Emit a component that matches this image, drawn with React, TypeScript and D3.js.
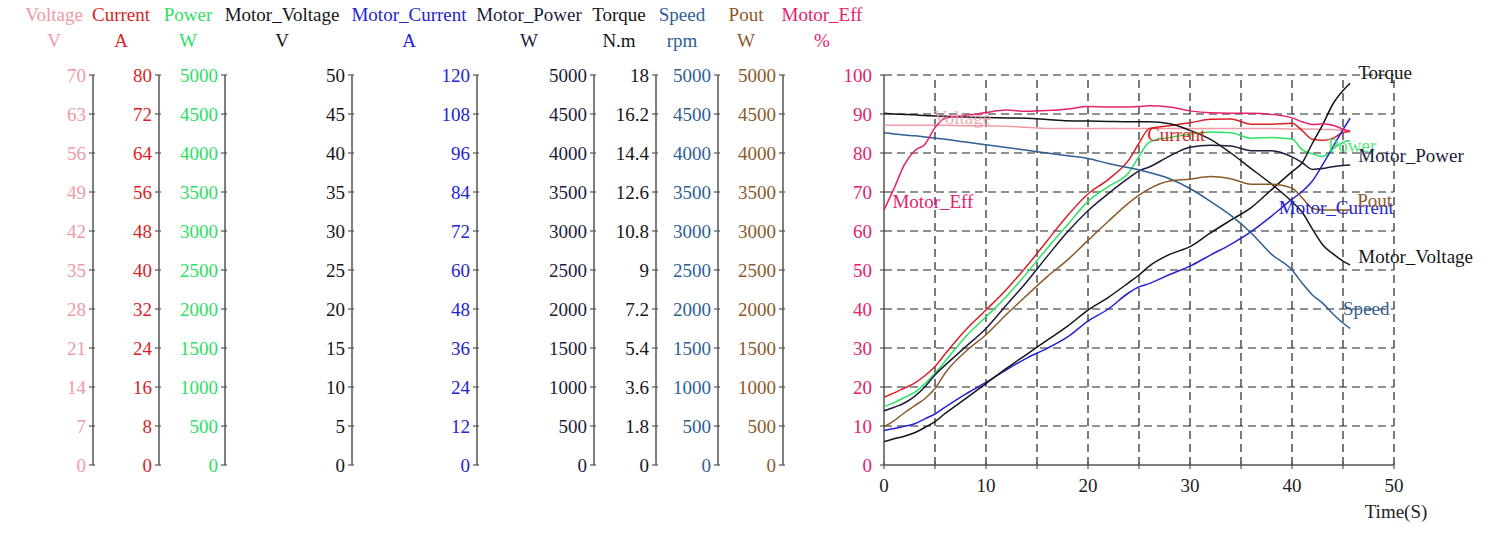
import React from "react";
import * as d3 from "d3";

// sample times (s)
const TIME = [0, 1, 2, 3, 4, 5, 6, 8, 10, 12, 14, 16, 18, 20, 22, 24, 25, 26, 28, 30, 32, 34, 36, 38, 40, 41, 42, 43, 44, 45, 45.7];

// series values, native units
const VOLTAGE = [61.0, 61.0, 61.0, 61.0, 61.0, 61.0, 61.0, 60.9, 60.9, 60.8, 60.6, 60.4, 60.4, 60.4, 60.4, 60.4, 60.4, 60.4, 60.4, 60.4, 60.4, 60.4, 60.4, 60.4, 60.3, 60.3, 60.3, 60.2, 60.2, 60.1, 60.1];
const CURRENT = [13.9, 14.8, 15.8, 16.8, 18.3, 20.2, 22.8, 27.7, 31.8, 36.0, 40.8, 46.0, 51.2, 55.6, 58.6, 62.6, 66.0, 69.0, 69.6, 70.2, 70.9, 71.0, 69.9, 69.9, 70.1, 68.6, 66.8, 66.6, 67.0, 68.2, 68.4];
const POWER = [750, 800, 865, 930, 1040, 1175, 1330, 1645, 1900, 2160, 2460, 2780, 3080, 3380, 3570, 3750, 3955, 4140, 4200, 4240, 4270, 4260, 4190, 4200, 4180, 4040, 3990, 3955, 4050, 4140, 4160];
const MOTOR_VOLTAGE = [45.1, 45.0, 44.95, 44.9, 44.8, 44.75, 44.7, 44.6, 44.55, 44.5, 44.45, 44.3, 44.15, 44.1, 44.05, 44.0, 44.0, 44.0, 43.75, 42.9, 41.75, 40.0, 38.0, 36.0, 33.75, 32.4, 30.25, 28.25, 27.1, 26.15, 25.65];
const MOTOR_CURRENT = [10.6, 11.2, 11.9, 12.7, 14.2, 15.7, 17.8, 21.8, 25.4, 29.3, 32.9, 35.9, 39.4, 44.3, 48.0, 53.0, 54.8, 55.8, 58.6, 61.2, 64.6, 67.9, 71.8, 76.6, 81.8, 84.2, 87.4, 92.4, 97.8, 103.2, 106.7];
const MOTOR_POWER = [695, 740, 795, 880, 1000, 1155, 1280, 1515, 1750, 2050, 2350, 2675, 2990, 3260, 3480, 3680, 3770, 3820, 3960, 4075, 4100, 4090, 4030, 4030, 3950, 3875, 3790, 3800, 3825, 3840, 3845];
const TORQUE = [1.08, 1.21, 1.33, 1.49, 1.73, 2.0, 2.38, 3.06, 3.76, 4.46, 5.11, 5.76, 6.41, 7.15, 7.74, 8.42, 8.77, 9.18, 9.72, 10.08, 10.71, 11.3, 11.88, 12.71, 13.54, 13.95, 14.85, 15.7, 16.65, 17.28, 17.62];
const SPEED = [4260, 4245, 4230, 4220, 4205, 4190, 4175, 4140, 4105, 4070, 4035, 4000, 3965, 3930, 3865, 3810, 3785, 3750, 3670, 3545, 3380, 3200, 2975, 2700, 2500, 2330, 2180, 2075, 1940, 1820, 1750];
const POUT = [490, 570, 670, 760, 850, 980, 1180, 1455, 1670, 1930, 2175, 2415, 2630, 2880, 3125, 3360, 3460, 3540, 3640, 3665, 3700, 3670, 3600, 3600, 3550, 3425, 3290, 3270, 3270, 3270, 3270];
const MOTOR_EFF = [65.4, 71.0, 77.0, 80.6, 82.2, 86.5, 88.9, 89.6, 90.4, 91.0, 90.7, 90.9, 91.3, 91.9, 91.8, 91.8, 91.9, 92.1, 91.8, 90.8, 90.3, 90.2, 90.2, 89.9, 89.0, 88.0, 87.3, 87.5, 87.1, 86.1, 85.5];

const X_TICKS = [0, 10, 20, 30, 40, 50];
const X_GRID = [5, 10, 15, 20, 25, 30, 35, 40, 45, 50];

// layout
const W = 1509;
const H = 536;
const Y_TOP = 75;
const Y_BOT = 465;
const X0 = 884;
const X1 = 1394;
const FONT = "'Liberation Serif', 'Times New Roman', serif";
const FS = 19;

const SERIES = [
  { name: "Voltage", unit: "V", max: 70, color: "#f09aa5", axisX: 93, titleX: 54, values: VOLTAGE, label: [4.85, 87.4] },
  { name: "Current", unit: "A", max: 80, color: "#d91f26", axisX: 159, titleX: 121, values: CURRENT, label: [25.8, 83.1] },
  { name: "Power", unit: "W", max: 5000, color: "#2ee063", axisX: 225, titleX: 188, values: POWER, label: [43.5, 80.3] },
  { name: "Motor_Voltage", unit: "V", max: 50, color: "#151515", axisX: 352, titleX: 282, values: MOTOR_VOLTAGE, label: [46.5, 51.8] },
  { name: "Motor_Current", unit: "A", max: 120, color: "#2424d0", axisX: 477, titleX: 409, values: MOTOR_CURRENT, label: [38.7, 64.4] },
  { name: "Motor_Power", unit: "W", max: 5000, color: "#1c1c3c", axisX: 594, titleX: 529, values: MOTOR_POWER, label: [46.5, 77.7] },
  { name: "Torque", unit: "N.m", max: 18, color: "#151515", axisX: 656, titleX: 619, values: TORQUE, label: [46.5, 99.0] },
  { name: "Speed", unit: "rpm", max: 5000, color: "#2f5f95", axisX: 718, titleX: 682, values: SPEED, label: [45.0, 38.5] },
  { name: "Pout", unit: "W", max: 5000, color: "#8b5a2b", axisX: 783, titleX: 746, values: POUT, label: [46.4, 66.2] },
  { name: "Motor_Eff", unit: "%", max: 100, color: "#e3226e", axisX: X0, titleX: 822, values: MOTOR_EFF, label: [0.83, 65.9] },
];

const x = d3.scaleLinear().domain([0, 50]).range([X0, X1]);
const yPct = d3.scaleLinear().domain([0, 100]).range([Y_BOT, Y_TOP]);
const fmt = (v: number) => String(Math.round(v * 10) / 10);

export default function App() {
  const hGrid = d3.range(1, 11).map((i) => i * 10);
  return (
    <svg width={W} height={H} style={{ position: "absolute", left: 0, top: 0, background: "#fff" }} fontFamily={FONT} fontSize={FS}>
      {/* headers */}
      {SERIES.map((s) => (
        <g key={"h" + s.name} fill={s.color} textAnchor="middle">
          <text x={s.titleX} y={21}>{s.name}</text>
          <text x={s.titleX} y={47}>{s.unit}</text>
        </g>
      ))}

      {/* left value axes */}
      {SERIES.map((s) => {
        const y = d3.scaleLinear().domain([0, s.max]).range([Y_BOT, Y_TOP]);
        const ticks = d3.range(0, 11).map((i) => (s.max * i) / 10);
        const isPlot = s.axisX === X0;
        return (
          <g key={"a" + s.name}>
            <line x1={s.axisX} x2={s.axisX} y1={y(0)} y2={y(s.max)} stroke="#555" strokeWidth={1.5} />
            {ticks.map((t) => (
              <g key={t}>
                <line x1={s.axisX - 4} x2={s.axisX + (isPlot ? 0 : 2)} y1={y(t)} y2={y(t)} stroke="#555" strokeWidth={1.2} />
                <text x={s.axisX - (isPlot ? 12 : 7)} y={y(t)} dy="0.35em" textAnchor="end" fill={s.color}>
                  {fmt(t)}
                </text>
              </g>
            ))}
          </g>
        );
      })}

      {/* grid */}
      <g stroke="#222" strokeWidth={1.2} strokeDasharray="8,5" fill="none">
        {hGrid.map((v) => (
          <line key={"hg" + v} x1={x(0)} x2={x(50)} y1={yPct(v)} y2={yPct(v)} />
        ))}
        {X_GRID.map((t) => (
          <line key={"vg" + t} x1={x(t)} x2={x(t)} y1={yPct(0)} y2={yPct(100)} />
        ))}
      </g>

      {/* x axis */}
      <line x1={x(0)} x2={x(50)} y1={Y_BOT} y2={Y_BOT} stroke="#555" strokeWidth={1.5} />
      {X_GRID.concat([0]).map((t) => (
        <line key={"xt" + t} x1={x(t)} x2={x(t)} y1={Y_BOT - 3} y2={Y_BOT + 4} stroke="#555" strokeWidth={1.2} />
      ))}
      {X_TICKS.map((t) => (
        <text key={"xl" + t} x={x(t)} y={Y_BOT + 27} textAnchor="middle" fill="#222">
          {t}
        </text>
      ))}
      <text x={x(50) + 2} y={Y_BOT + 53} textAnchor="middle" fill="#222">Time(S)</text>

      {/* series lines */}
      {SERIES.map((s) => {
        const y = d3.scaleLinear().domain([0, s.max]).range([Y_BOT, Y_TOP]);
        const line = d3
          .line<number>()
          .x((_, i) => x(TIME[i]))
          .y((d) => y(d))
          .curve(d3.curveMonotoneX);
        return <path key={"l" + s.name} d={line(s.values) || ""} fill="none" stroke={s.color} strokeWidth={1.5} />;
      })}

      {/* inline labels */}
      {SERIES.map((s) => (
        <text key={"lb" + s.name} x={x(s.label[0])} y={yPct(s.label[1])} fill={s.color} opacity={s.name === "Voltage" || s.name === "Power" ? 0.8 : 1}>
          {s.name}
        </text>
      ))}
    </svg>
  );
}
